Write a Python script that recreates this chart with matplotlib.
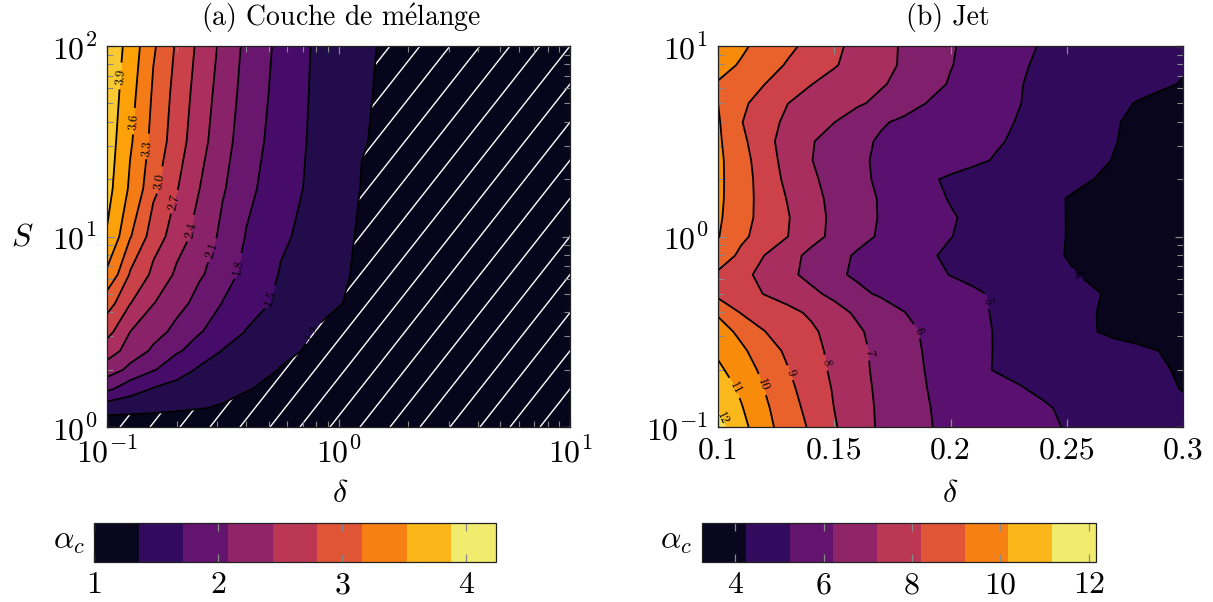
import numpy as np
import matplotlib
matplotlib.use('Agg')
import matplotlib.pyplot as plt
from matplotlib.colors import ListedColormap, BoundaryNorm, Normalize
from matplotlib.cm import ScalarMappable
from matplotlib.collections import LineCollection
from matplotlib.ticker import FixedLocator, FixedFormatter, LogLocator, NullFormatter

plt.rcParams['mathtext.fontset'] = 'cm'
plt.rcParams['font.family'] = 'serif'
plt.rcParams['font.serif'] = ['cmr10']
plt.rcParams['axes.formatter.use_mathtext'] = True

# ---------------- data: (a) Couche de melange ----------------
log_delta_a = [-1.0, -0.9, -0.8, -0.7, -0.6, -0.5, -0.4, -0.25, -0.1, 0.1, 0.3, 0.6, 1.0]
log_S_a = [0.0, 0.1, 0.2, 0.3, 0.4, 0.5, 0.65, 0.8, 1.0, 1.25, 1.5, 1.75, 2.0]
alpha_a = [
    [1.00, 1.02, 1.03, 1.03, 1.03, 1.03, 1.02, 1.02, 1.01, 1.01, 1.01, 1.00, 1.00],
    [1.34, 1.30, 1.27, 1.24, 1.21, 1.18, 1.15, 1.11, 1.08, 1.05, 1.03, 1.02, 1.01],
    [1.86, 1.64, 1.48, 1.41, 1.34, 1.27, 1.21, 1.15, 1.10, 1.06, 1.04, 1.03, 1.02],
    [2.26, 2.02, 1.82, 1.62, 1.46, 1.37, 1.29, 1.19, 1.13, 1.08, 1.05, 1.03, 1.02],
    [2.55, 2.27, 2.05, 1.84, 1.66, 1.49, 1.40, 1.25, 1.16, 1.10, 1.06, 1.04, 1.02],
    [2.80, 2.40, 2.21, 2.02, 1.82, 1.65, 1.49, 1.33, 1.19, 1.12, 1.07, 1.04, 1.02],
    [3.14, 2.71, 2.41, 2.21, 1.99, 1.79, 1.63, 1.43, 1.27, 1.14, 1.08, 1.04, 1.02],
    [3.55, 2.97, 2.63, 2.35, 2.14, 1.92, 1.72, 1.48, 1.32, 1.15, 1.10, 1.05, 1.02],
    [3.88, 3.32, 2.85, 2.55, 2.28, 2.03, 1.79, 1.55, 1.37, 1.16, 1.10, 1.05, 1.02],
    [4.00, 3.55, 3.08, 2.72, 2.40, 2.13, 1.87, 1.62, 1.42, 1.19, 1.12, 1.05, 1.02],
    [4.05, 3.64, 3.20, 2.84, 2.50, 2.21, 1.94, 1.65, 1.44, 1.21, 1.12, 1.05, 1.02],
    [4.10, 3.70, 3.26, 2.89, 2.56, 2.26, 1.99, 1.68, 1.45, 1.22, 1.12, 1.05, 1.02],
    [4.15, 3.77, 3.34, 2.96, 2.62, 2.32, 2.03, 1.71, 1.46, 1.23, 1.12, 1.05, 1.02],
]
levels_a = [1.2, 1.5, 1.8, 2.1, 2.4, 2.7, 3.0, 3.3, 3.6, 3.9]
fill_levels_a = [0.9] + levels_a + [4.2]
cbar_bounds_a = [1.0, 1.36, 1.72, 2.08, 2.44, 2.80, 3.16, 3.52, 3.88, 4.24]
cbar_ticks_a = [1, 2, 3, 4]

# ---------------- data: (b) Jet ----------------
delta_b = [0.10, 0.11, 0.12, 0.13, 0.14, 0.15, 0.16, 0.17, 0.18, 0.19, 0.20,
           0.21, 0.22, 0.23, 0.24, 0.25, 0.26, 0.27, 0.28, 0.29, 0.30]
log_S_b = [-1.0, -0.9, -0.8, -0.7, -0.6, -0.5, -0.4, -0.3, -0.2, -0.1, 0.0,
           0.1, 0.2, 0.3, 0.4, 0.5, 0.6, 0.7, 0.8, 0.9, 1.0]
alpha_b = [
    [12.35, 11.32, 10.31, 9.55, 8.87, 8.09, 7.43, 6.86, 6.46, 6.05, 5.84, 5.66, 5.48, 5.31, 5.13, 4.96, 4.83, 4.70, 4.56, 4.43, 4.30],
    [11.95, 11.07, 10.17, 9.41, 8.70, 7.99, 7.38, 6.85, 6.44, 6.03, 5.83, 5.64, 5.45, 5.26, 5.07, 4.90, 4.75, 4.60, 4.45, 4.30, 4.15],
    [11.60, 10.81, 9.98, 9.23, 8.56, 7.92, 7.33, 6.81, 6.40, 6.00, 5.76, 5.52, 5.28, 5.04, 4.88, 4.73, 4.59, 4.44, 4.30, 4.15, 3.97],
    [11.20, 10.48, 9.77, 9.04, 8.42, 7.82, 7.26, 6.77, 6.36, 5.95, 5.57, 5.20, 4.94, 4.82, 4.70, 4.58, 4.46, 4.34, 4.21, 4.09, 3.90],
    [10.80, 10.18, 9.48, 8.82, 8.30, 7.76, 7.22, 6.75, 6.31, 5.91, 5.56, 5.21, 4.95, 4.81, 4.67, 4.54, 4.40, 4.26, 4.13, 3.99, 3.85],
    [10.50, 9.74, 9.02, 8.59, 8.16, 7.67, 7.13, 6.67, 6.24, 5.86, 5.55, 5.24, 4.94, 4.72, 4.50, 4.29, 4.07, 3.85, 3.75, 3.70, 3.65],
    [9.85, 8.95, 8.60, 8.26, 7.86, 7.34, 6.85, 6.43, 6.02, 5.73, 5.45, 5.17, 4.92, 4.70, 4.49, 4.28, 4.06, 3.85, 3.75, 3.70, 3.65],
    [8.70, 8.45, 7.96, 7.58, 7.21, 6.76, 6.20, 5.88, 5.68, 5.48, 5.29, 5.10, 4.90, 4.70, 4.50, 4.29, 4.09, 3.90, 3.75, 3.70, 3.65],
    [8.85, 8.27, 7.72, 7.23, 6.72, 6.18, 5.85, 5.63, 5.42, 5.20, 4.98, 4.80, 4.62, 4.44, 4.26, 4.08, 3.90, 3.75, 3.70, 3.65, 3.65],
    [9.60, 8.78, 7.99, 7.34, 6.77, 6.29, 5.89, 5.62, 5.36, 5.09, 4.88, 4.70, 4.52, 4.34, 4.16, 3.98, 3.80, 3.70, 3.65, 3.65, 3.65],
    [10.05, 9.21, 8.57, 8.01, 7.34, 6.77, 6.30, 5.89, 5.60, 5.31, 5.02, 4.81, 4.61, 4.40, 4.20, 3.99, 3.80, 3.70, 3.65, 3.65, 3.65],
    [10.15, 9.36, 8.67, 8.06, 7.38, 6.80, 6.36, 5.94, 5.65, 5.36, 5.07, 4.84, 4.63, 4.42, 4.20, 3.99, 3.80, 3.70, 3.65, 3.65, 3.65],
    [10.20, 9.41, 8.65, 7.95, 7.29, 6.76, 6.33, 5.93, 5.59, 5.25, 4.95, 4.75, 4.56, 4.37, 4.18, 3.99, 3.80, 3.70, 3.65, 3.65, 3.65],
    [10.20, 9.44, 8.58, 7.77, 7.16, 6.67, 6.25, 5.83, 5.47, 5.10, 4.90, 4.75, 4.61, 4.46, 4.31, 4.17, 4.03, 3.85, 3.75, 3.70, 3.65],
    [10.20, 9.40, 8.46, 7.66, 7.03, 6.58, 6.14, 5.87, 5.69, 5.50, 5.32, 5.13, 4.94, 4.75, 4.56, 4.37, 4.17, 3.98, 3.80, 3.70, 3.65],
    [10.15, 9.25, 8.30, 7.63, 7.07, 6.63, 6.20, 5.91, 5.74, 5.57, 5.40, 5.23, 5.07, 4.87, 4.67, 4.46, 4.25, 4.04, 3.83, 3.70, 3.65],
    [10.10, 9.04, 8.36, 7.81, 7.41, 7.01, 6.55, 6.09, 5.85, 5.67, 5.50, 5.32, 5.14, 4.95, 4.73, 4.51, 4.29, 4.07, 3.85, 3.72, 3.65],
    [10.00, 9.20, 8.57, 8.01, 7.71, 7.42, 7.13, 6.78, 6.37, 5.98, 5.73, 5.49, 5.25, 5.01, 4.80, 4.59, 4.38, 4.18, 3.97, 3.80, 3.70],
    [9.95, 9.48, 9.01, 8.52, 8.02, 7.71, 7.40, 7.10, 6.72, 6.31, 5.93, 5.63, 5.32, 5.02, 4.86, 4.72, 4.57, 4.42, 4.28, 4.13, 3.95],
    [10.25, 9.93, 9.41, 8.91, 8.49, 8.07, 7.67, 7.28, 6.88, 6.46, 6.04, 5.71, 5.39, 5.07, 4.89, 4.76, 4.63, 4.50, 4.37, 4.23, 4.10],
    [10.40, 10.13, 9.74, 9.23, 8.71, 8.19, 7.74, 7.31, 6.89, 6.49, 6.08, 5.76, 5.45, 5.15, 4.94, 4.82, 4.69, 4.57, 4.45, 4.32, 4.20],
]
levels_b = [4, 5, 6, 7, 8, 9, 10, 11, 12]
fill_levels_b = [2.8] + levels_b + [12.6]
cbar_bounds_b = [3.25, 4.24, 5.23, 6.22, 7.21, 8.20, 9.19, 10.18, 11.17, 12.16]
cbar_ticks_b = [4, 6, 8, 10, 12]

# ---------------- figure ----------------
W, H = 1213, 602
fig = plt.figure(figsize=(W / 100, H / 100), dpi=100)

def px_axes(x0, y0, x1, y1):
    return fig.add_axes([x0 / W, 1 - y1 / H, (x1 - x0) / W, (y1 - y0) / H])

ax_a = px_axes(107, 46, 570, 427)
ax_b = px_axes(718, 46, 1183, 427)
cax_a = px_axes(94, 523, 496, 562)
cax_b = px_axes(702, 523, 1096, 562)

inferno = plt.get_cmap('inferno')
tick_col = '#8a8a8a'
FS = 23

def style_axes(ax):
    ax.tick_params(which='both', direction='in', top=True, right=True,
                   color=tick_col, labelsize=FS)
    ax.tick_params(which='major', length=6, width=0.9, pad=7)
    ax.tick_params(which='minor', length=4, width=0.8)
    for s in ax.spines.values():
        s.set_linewidth(0.9)
        s.set_color('#222222')

# ---- panel (a)
Xa, Ya = np.meshgrid(10 ** np.array(log_delta_a), 10 ** np.array(log_S_a))
Za = np.array(alpha_a)
ax_a.set_xscale('log')
ax_a.set_yscale('log')
ax_a.set_xlim(0.1, 10)
ax_a.set_ylim(1, 100)
norm_a = Normalize(vmin=0.877, vmax=4.51)
cf_a = ax_a.contourf(Xa, Ya, Za, levels=fill_levels_a, cmap=inferno, norm=norm_a)
cl_a = ax_a.contour(Xa, Ya, Za, levels=levels_a, colors='k', linewidths=1.3)

# hatching of the region below the lowest level
hatch_path = cf_a.get_paths()[0]
aw, ah = 463.0, 381.0
k = 1.27
segs = []
for x0 in np.arange(13 - 360, aw + 60, 30.0):
    segs.append([(x0 / aw, 0.0), ((x0 + ah / k) / aw, 1.0)])
lc = LineCollection(segs, colors='white', linewidths=1.0, transform=ax_a.transAxes, zorder=1.5)
ax_a.add_collection(lc, autolim=False)
lc.set_clip_path(hatch_path, transform=ax_a.transData)

lab_pos_a = [(0.1161, 68.8), (0.1295, 39.9), (0.1459, 29.14), (0.1661, 19.56), (0.1909, 15.18),
             (0.2306, 10.82), (0.2870, 8.39), (0.3680, 6.92), (0.4912, 4.81), (0.7458, 3.19)]
ax_a.clabel(cl_a, levels_a, inline=True, fontsize=9, fmt='%.1f', manual=lab_pos_a)

ax_a.xaxis.set_major_locator(FixedLocator([0.1, 1, 10]))
ax_a.xaxis.set_major_formatter(FixedFormatter([r'$\mathrm{10}^{-1}$', r'$\mathrm{10}^{0}$', r'$\mathrm{10}^{1}$']))
ax_a.xaxis.set_minor_locator(LogLocator(base=10, subs=np.arange(2, 10)))
ax_a.xaxis.set_minor_formatter(NullFormatter())
ax_a.yaxis.set_major_locator(FixedLocator([1, 10, 100]))
ax_a.yaxis.set_major_formatter(FixedFormatter([r'$\mathrm{10}^{0}$', r'$\mathrm{10}^{1}$', r'$\mathrm{10}^{2}$']))
ax_a.yaxis.set_minor_locator(LogLocator(base=10, subs=np.arange(2, 10)))
ax_a.yaxis.set_minor_formatter(NullFormatter())
style_axes(ax_a)

# ---- panel (b)
Xb, Yb = np.meshgrid(np.array(delta_b), 10 ** np.array(log_S_b))
Zb = np.array(alpha_b)
ax_b.set_yscale('log')
ax_b.set_xlim(0.1, 0.3)
ax_b.set_ylim(0.1, 10)
norm_b = Normalize(vmin=2.85, vmax=13.15)
cf_b = ax_b.contourf(Xb, Yb, Zb, levels=fill_levels_b, cmap=inferno, norm=norm_b)
cl_b = ax_b.contour(Xb, Yb, Zb, levels=levels_b, colors='k', linewidths=1.3)
lab_pos_b = [(0.10215, 0.1115), (0.1073, 0.1602), (0.1189, 0.1662), (0.1310, 0.1921),
             (0.1460, 0.2168), (0.1641, 0.2446), (0.1856, 0.315), (0.2140, 0.453), (0.2544, 0.628)]
ax_b.clabel(cl_b, levels_b, inline=True, fontsize=9, fmt='%d', manual=lab_pos_b)
ax_b.xaxis.set_major_locator(FixedLocator([0.1, 0.15, 0.2, 0.25, 0.3]))
ax_b.xaxis.set_major_formatter(FixedFormatter(['0.1', '0.15', '0.2', '0.25', '0.3']))
ax_b.yaxis.set_major_locator(FixedLocator([0.1, 1, 10]))
ax_b.yaxis.set_major_formatter(FixedFormatter([r'$\mathrm{10}^{-1}$', r'$\mathrm{10}^{0}$', r'$\mathrm{10}^{1}$']))
ax_b.yaxis.set_minor_locator(LogLocator(base=10, subs=np.arange(2, 10)))
ax_b.yaxis.set_minor_formatter(NullFormatter())
style_axes(ax_b)

# ---- colorbars
cmap9 = ListedColormap(inferno((np.arange(9) + 0.5) / 9))

def make_cbar(cax, bounds, ticks, label_dx):
    sm = ScalarMappable(norm=BoundaryNorm(bounds, 9), cmap=cmap9)
    cb = fig.colorbar(sm, cax=cax, orientation='horizontal', ticks=ticks)
    cb.outline.set_linewidth(0.9)
    cb.outline.set_edgecolor('#222222')
    cax.set_xticklabels([str(t) for t in ticks])
    cax.tick_params(which='major', direction='in', top=True, bottom=True, color=tick_col,
                    length=6, width=0.9, labelsize=FS, pad=7)
    cax.minorticks_off()
    cax.text(label_dx, 0.5, r'$\alpha_c$', transform=cax.transAxes, ha='right', va='center',
             fontsize=FS)
    return cb

make_cbar(cax_a, cbar_bounds_a, cbar_ticks_a, -0.022)
make_cbar(cax_b, cbar_bounds_b, cbar_ticks_b, -0.025)

# ---- labels & titles
fig.text(341 / W, 1 - 18 / H, r'(a) Couche de m$\mathrm{\acute{e}}$lange', ha='center', va='center', fontsize=20)
fig.text(948 / W, 1 - 18 / H, '(b) Jet', ha='center', va='center', fontsize=20)
fig.text(22 / W, 1 - 238 / H, r'$S$', ha='center', va='center', fontsize=FS)
fig.text(340 / W, 1 - 494 / H, r'$\delta$', ha='center', va='center', fontsize=FS)
fig.text(950 / W, 1 - 494 / H, r'$\delta$', ha='center', va='center', fontsize=FS)

fig.savefig('out.png', dpi=100)
